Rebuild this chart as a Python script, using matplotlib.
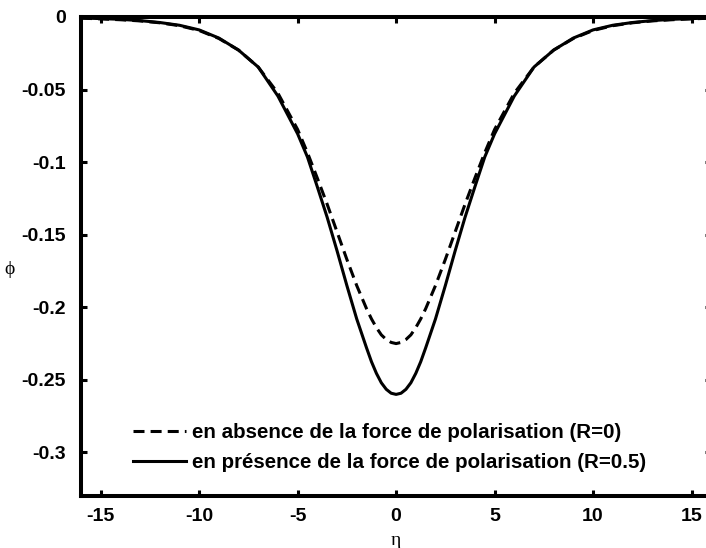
import matplotlib.pyplot as plt

# profile of phi versus eta, read at symmetric points
eta = [-16, -15, -14, -13, -12, -11, -10, -9, -8, -7, -6, -5, -4.5, -4, -3.5, -3, -2.5, -2, -1.5,
       -1.25, -1, -0.75, -0.5, -0.25, 0, 0.25, 0.5, 0.75, 1, 1.25,
       1.5, 2, 2.5, 3, 3.5, 4, 4.5, 5, 6, 7, 8, 9, 10, 11, 12, 13, 14, 15, 16]

# R = 0 (no polarisation force)
phi_R0 = [-0.0008, -0.0013, -0.0019, -0.0027, -0.0040, -0.0060, -0.0093, -0.0148, -0.0228, -0.0345, -0.0525,
          -0.0775, -0.0935, -0.111, -0.129, -0.148, -0.167, -0.185, -0.201,
          -0.208, -0.2140, -0.2190, -0.2222, -0.2242, -0.2250, -0.2242, -0.2222, -0.2190, -0.2140, -0.208,
          -0.201, -0.185, -0.167, -0.148, -0.129, -0.111, -0.0935,
          -0.0775, -0.0525, -0.0345, -0.0228, -0.0148, -0.0093, -0.0060, -0.0040, -0.0027, -0.0019, -0.0013, -0.0008]

# R = 0.5
phi_R05 = [-0.0007, -0.0011, -0.0016, -0.0025, -0.0038, -0.0057, -0.0089, -0.0145, -0.0228, -0.0345, -0.0545,
           -0.0805, -0.0965, -0.117, -0.138, -0.161, -0.185, -0.208, -0.228,
           -0.2375, -0.2455, -0.2520, -0.2565, -0.2592, -0.2600, -0.2592, -0.2565, -0.2520, -0.2455, -0.2375,
           -0.228, -0.208, -0.185, -0.161, -0.138, -0.117, -0.0965,
           -0.0805, -0.0545, -0.0345, -0.0228, -0.0145, -0.0089, -0.0057, -0.0038, -0.0025, -0.0016, -0.0011, -0.0007]

xticks = [-15, -10, -5, 0, 5, 10, 15]
yticks = [0, -0.05, -0.1, -0.15, -0.2, -0.25, -0.3]
yticklabels = ["0", "-0.05", "-0.1", "-0.15", "-0.2", "-0.25", "-0.3"]

plt.rcParams['font.family'] = ['Liberation Sans', 'DejaVu Sans']

fig = plt.figure(figsize=(7.06, 5.48), dpi=100)
ax = fig.add_axes([0.1147, 0.0949, 0.8927, 0.8741])

ax.plot(eta, phi_R0, color="black", lw=2.2, linestyle=(0, (3.6, 2.0)),
        label="en absence de la force de polarisation (R=0)")
ax.plot(eta, phi_R05, color="black", lw=2.2,
        label="en présence de la force de polarisation (R=0.5)")

ax.set_xlim(-16, 16)
ax.set_ylim(-0.33, 0)
ax.set_xticks(xticks)
ax.set_xticklabels([str(t) for t in xticks])
ax.set_yticks(yticks)
ax.set_yticklabels(yticklabels)

for s in ax.spines.values():
    s.set_linewidth(2.9)
ax.tick_params(direction="in", length=4.5, width=2.2, top=True, right=True,
               labelsize=14, pad=9)
ax.tick_params(axis="y", pad=11)
for lab in ax.get_xticklabels() + ax.get_yticklabels():
    lab.set_fontweight("bold")

ax.set_xlabel("η", family=["Liberation Serif", "DejaVu Serif"], fontsize=14, labelpad=5)
ax.set_ylabel("ϕ", family=["Liberation Serif", "DejaVu Serif"], fontsize=14, rotation=0)
ax.yaxis.set_label_coords(-0.113, 0.455)

leg = ax.legend(loc="lower left", bbox_to_anchor=(0.053, 0.012), frameon=False,
                handlelength=2.6, handletextpad=0.3, labelspacing=0.5,
                prop={"weight": "bold", "size": 14.8})

fig.savefig("out.png")
